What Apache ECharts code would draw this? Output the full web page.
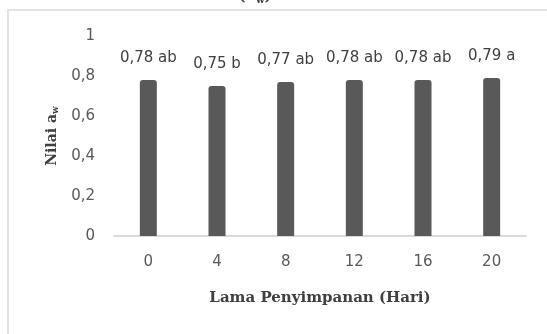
<!DOCTYPE html>
<html>
<head>
<meta charset="utf-8">
<script src="https://cdn.jsdelivr.net/npm/echarts@6/dist/echarts.min.js"></script>
<style>
html,body{margin:0;padding:0;background:#fff;}
#chart{width:547px;height:334px;}
</style>
</head>
<body>
<div id="chart"></div>
<script>
const categories = ['0', '4', '8', '12', '16', '20'];
const values = [0.78, 0.75, 0.77, 0.78, 0.78, 0.79];
const notations = ['ab', 'b', 'ab', 'ab', 'ab', 'a'];
const yTicks = [0, 0.2, 0.4, 0.6, 0.8, 1];

const fmt = v => String(v).replace('.', ',');

const chart = echarts.init(document.getElementById('chart'), null, {renderer: 'canvas'});
chart.setOption({
  animation: false,
  backgroundColor: '#ffffff',
  graphic: [
    {type: 'rect', shape: {x: 8, y: 10, width: 700, height: 500},
     style: {fill: 'none', stroke: '#e3e3e3', lineWidth: 2}, silent: true},
    {type: 'text', left: 238, top: -12,
     style: {text: '(a{s|w})', font: 'bold 16px "DejaVu Serif"', fill: '#404040',
       rich: {s: {fontSize: 10, fontFamily: 'DejaVu Serif', fontWeight: 'bold', verticalAlign: 'bottom', padding: [8,0,0,0]}}}}
  ],
  grid: {left: 114, right: 21, top: 36, bottom: 98},
  xAxis: {
    type: 'category',
    data: categories,
    axisLine: {lineStyle: {color: '#d9d9d9', width: 2}},
    axisTick: {show: false},
    axisLabel: {color: '#595959', fontFamily: 'DejaVu Sans', fontSize: 15, margin: 19},
    name: 'Lama Penyimpanan (Hari)',
    nameLocation: 'middle',
    nameGap: 55,
    nameTextStyle: {color: '#404040', fontFamily: 'DejaVu Serif', fontWeight: 'bold', fontSize: 15}
  },
  yAxis: {
    type: 'value',
    min: 0, max: 1, interval: 0.2,
    splitLine: {show: false},
    axisLine: {show: false},
    axisTick: {show: false},
    axisLabel: {color: '#595959', fontFamily: 'DejaVu Sans', fontSize: 15, margin: 19,
      formatter: v => yTicks.includes(+v.toFixed(1)) ? fmt(+v.toFixed(1)) : ''},
    name: 'Nilai a{s|w}',
    nameLocation: 'middle',
    nameGap: 54,
    nameRotate: 90,
    nameTextStyle: {color: '#404040', fontFamily: 'DejaVu Serif', fontWeight: 'bold', fontSize: 14,
      rich: {s: {fontSize: 9, fontFamily: 'DejaVu Serif', fontWeight: 'bold', color: '#404040', padding: [6,0,0,0]}}}
  },
  series: [{
    type: 'bar',
    data: values,
    barWidth: 17,
    itemStyle: {color: '#595959', borderRadius: [3, 3, 0, 0]},
    label: {
      show: true, position: 'top', distance: 14,
      color: '#404040', fontFamily: 'DejaVu Sans', fontSize: 15,
      formatter: p => fmt(values[p.dataIndex]) + ' ' + notations[p.dataIndex]
    }
  }]
});
</script>
</body>
</html>
